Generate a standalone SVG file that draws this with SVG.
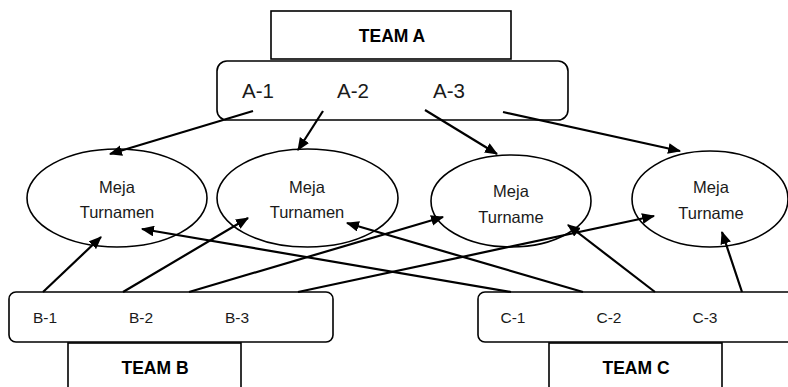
<svg xmlns="http://www.w3.org/2000/svg" width="788" height="387" viewBox="0 0 788 387">
<defs>
<style>
.box{fill:#fff;stroke:#000;stroke-width:1.6}
.ell{fill:#fff;stroke:#000;stroke-width:1.6}
.t{font-family:"Liberation Sans",Arial,sans-serif;fill:#1a1a1a;text-anchor:middle}
.big{font-size:20.5px}
.med{font-size:16.5px}
.small{font-size:15.5px}
.bold{font-size:17.5px;font-weight:bold;fill:#000}
.ln{stroke:#000;stroke-width:2.2;fill:none}
.arr{marker-end:url(#ah)}
</style>
<marker id="ah" viewBox="0 0 12 10" refX="11" refY="5" markerWidth="13" markerHeight="11" markerUnits="userSpaceOnUse" orient="auto">
<path d="M0,0 L12,5 L0,10 z" fill="#000"/>
</marker>
</defs>
<rect width="788" height="387" fill="#fff"/>

<g id="teamA">
<rect class="box" x="271" y="11" width="240" height="48"/>
<text class="t bold" x="392" y="42">TEAM A</text>
</g>
<g id="groupA">
<rect class="box" x="217" y="61" width="351" height="59" rx="10"/>
<text class="t big" x="258" y="98">A-1</text>
<text class="t big" x="353" y="98">A-2</text>
<text class="t big" x="449" y="98">A-3</text>
</g>

<g id="meja1">
<ellipse class="ell" cx="117" cy="198" rx="90" ry="49"/>
<text class="t med" x="117" y="193">Meja</text>
<text class="t med" x="117" y="218">Turnamen</text>
</g>
<g id="meja2">
<ellipse class="ell" cx="307.5" cy="198" rx="90.5" ry="49"/>
<text class="t med" x="307" y="193">Meja</text>
<text class="t med" x="307" y="218">Turnamen</text>
</g>
<g id="meja3">
<ellipse class="ell" cx="511" cy="201" rx="80" ry="46"/>
<text class="t med" x="511" y="197">Meja</text>
<text class="t med" x="511" y="223">Turname</text>
</g>
<g id="meja4">
<ellipse class="ell" cx="710" cy="199" rx="78" ry="48"/>
<text class="t med" x="711" y="193">Meja</text>
<text class="t med" x="711" y="219">Turname</text>
</g>

<g id="groupB">
<rect class="box" x="9" y="292" width="324" height="50" rx="7"/>
<text class="t small" x="45" y="323">B-1</text>
<text class="t small" x="141" y="323">B-2</text>
<text class="t small" x="237" y="323">B-3</text>
</g>
<g id="teamB">
<rect class="box" x="68" y="343" width="173" height="60"/>
<text class="t bold" x="155" y="374">TEAM B</text>
</g>

<g id="groupC">
<rect class="box" x="478" y="292" width="330" height="50" rx="7"/>
<text class="t small" x="513" y="323">C-1</text>
<text class="t small" x="609" y="323">C-2</text>
<text class="t small" x="705" y="323">C-3</text>
</g>
<g id="teamC">
<rect class="box" x="549" y="343" width="173" height="60"/>
<text class="t bold" x="636" y="374">TEAM C</text>
</g>

<g id="connectors">
<line class="ln arr" x1="253" y1="111" x2="110" y2="154"/>
<line class="ln arr" x1="323" y1="111" x2="298" y2="150"/>
<line class="ln arr" x1="425" y1="110" x2="497" y2="154"/>
<line class="ln arr" x1="503" y1="112" x2="680" y2="151"/>

<line class="ln arr" x1="43" y1="292" x2="101" y2="237"/>
<line class="ln arr" x1="123" y1="292" x2="248" y2="218"/>
<line class="ln arr" x1="189" y1="292" x2="443" y2="217"/>
<line class="ln arr" x1="298" y1="292" x2="654" y2="216"/>

<line class="ln arr" x1="511" y1="292" x2="142" y2="229"/>
<line class="ln arr" x1="583" y1="292" x2="347" y2="223"/>
<line class="ln arr" x1="655" y1="292" x2="568" y2="225"/>
<line class="ln arr" x1="742" y1="292" x2="722" y2="232"/>
</g>
</svg>
